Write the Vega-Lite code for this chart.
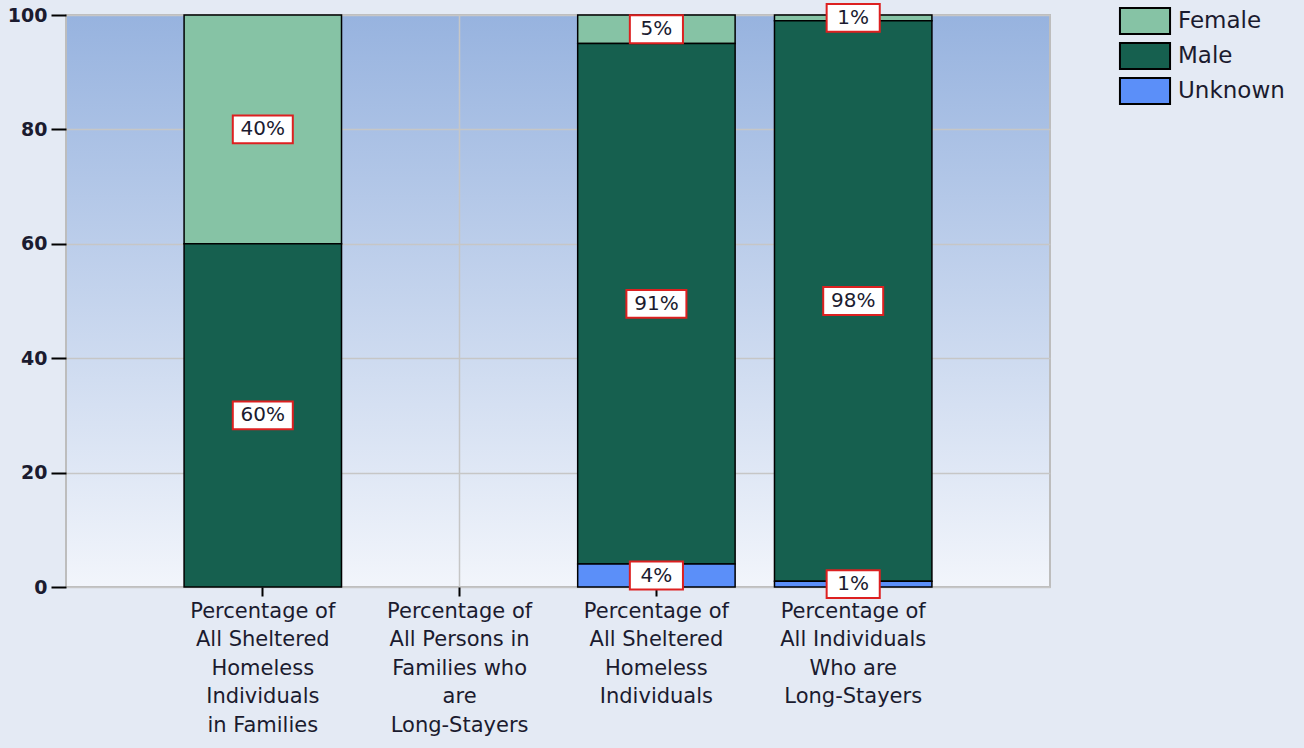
{
  "$schema": "https://vega.github.io/schema/vega-lite/v6.json",
  "width": 984,
  "height": 572,
  "autosize": {"type": "none"},
  "padding": {"left": 66, "top": 15, "right": 254, "bottom": 161},
  "background": "#e4eaf4",
  "config": {
    "view": {
      "fill": {"gradient": "linear", "x1": 0, "y1": 0, "x2": 0, "y2": 1,
        "stops": [{"offset": 0, "color": "#97b3df"}, {"offset": 1, "color": "#f2f5fb"}]},
      "stroke": "#bdbdbd",
      "strokeWidth": 2
    },
    "font": "DejaVu Sans"
  },
  "data": {
    "values": [
      {"cat": "Percentage of|All Sheltered|Homeless|Individuals|in Families", "gender": "Female", "value": 40},
      {"cat": "Percentage of|All Sheltered|Homeless|Individuals|in Families", "gender": "Male", "value": 60},
      {"cat": "Percentage of|All Sheltered|Homeless|Individuals", "gender": "Female", "value": 5},
      {"cat": "Percentage of|All Sheltered|Homeless|Individuals", "gender": "Male", "value": 91},
      {"cat": "Percentage of|All Sheltered|Homeless|Individuals", "gender": "Unknown", "value": 4},
      {"cat": "Percentage of|All Individuals|Who are|Long-Stayers", "gender": "Female", "value": 1},
      {"cat": "Percentage of|All Individuals|Who are|Long-Stayers", "gender": "Male", "value": 98},
      {"cat": "Percentage of|All Individuals|Who are|Long-Stayers", "gender": "Unknown", "value": 1}
    ]
  },
  "transform": [
    {"calculate": "indexof(['Unknown','Male','Female'], datum.gender)", "as": "ord"}
  ],
  "layer": [
    {
      "mark": {"type": "bar", "stroke": "#000000", "strokeWidth": 1.5},
      "encoding": {
        "x": {
          "field": "cat", "type": "nominal", "sort": null,
          "scale": {
            "domain": [
              "Percentage of|All Sheltered|Homeless|Individuals|in Families",
              "Percentage of|All Persons in|Families who|are|Long-Stayers",
              "Percentage of|All Sheltered|Homeless|Individuals",
              "Percentage of|All Individuals|Who are|Long-Stayers"
            ],
            "paddingInner": 0.2, "paddingOuter": 0.6
          },
          "axis": {
            "title": null, "labelAngle": 0, "labelExpr": "split(datum.label, '|')",
            "labelFontSize": 21, "labelLineHeight": 28.5, "labelColor": "#1b1b2f",
            "labelPadding": 4, "labelLimit": 400, "labelBaseline": "top",
            "tickColor": "#000000", "tickSize": 9, "tickWidth": 2,
            "domain": false, "grid": true, "gridColor": "#c6c6c6", "gridWidth": 1.5
          }
        },
        "y": {
          "field": "value", "type": "quantitative", "stack": "zero",
          "scale": {"domain": [0, 100], "nice": false},
          "axis": {
            "title": null, "values": [0, 20, 40, 60, 80, 100],
            "grid": true, "gridColor": "#c6c6c6", "gridWidth": 1.5, "domain": false,
            "tickColor": "#000000", "tickSize": 15, "tickWidth": 2,
            "labelFontSize": 19, "labelFontWeight": "bold", "labelColor": "#1b1b2f", "labelPadding": 4
          }
        },
        "color": {
          "field": "gender", "type": "nominal",
          "scale": {"domain": ["Female", "Male", "Unknown"], "range": ["#86c3a5", "#16604f", "#5b8ff9"]},
          "legend": {
            "orient": "none", "legendX": 1063, "legendY": -10, "title": null,
            "symbolType": "M-1.67,-0.87H1.67V0.87H-1.67Z", "symbolSize": 900,
            "symbolStrokeColor": "#000000", "symbolStrokeWidth": 2, "symbolOpacity": 1,
            "labelFontSize": 23, "labelColor": "#1b1b2f", "labelOffset": 17,
            "rowPadding": -1, "padding": 0
          }
        },
        "order": {"field": "ord", "type": "quantitative"}
      }
    },
    {
      "transform": [
        {"stack": "value", "groupby": ["cat"], "sort": [{"field": "ord", "order": "ascending"}], "as": ["v0", "v1"]},
        {"calculate": "(datum.v0 + datum.v1) / 2", "as": "mid"}
      ],
      "mark": {"type": "point", "filled": true, "fill": "#ffffff", "stroke": "#dd2020", "strokeWidth": 2, "opacity": 1, "size": 900},
      "encoding": {
        "x": {"field": "cat", "type": "nominal", "sort": null},
        "y": {"field": "mid", "type": "quantitative"},
        "shape": {
          "condition": {"test": "datum.value < 10", "value": "M-1.77,-0.93H1.77V0.93H-1.77Z"},
          "value": "M-2,-0.93H2V0.93H-2Z"
        }
      }
    },
    {
      "transform": [
        {"stack": "value", "groupby": ["cat"], "sort": [{"field": "ord", "order": "ascending"}], "as": ["v0", "v1"]},
        {"calculate": "(datum.v0 + datum.v1) / 2", "as": "mid"},
        {"calculate": "datum.value + '%'", "as": "label"}
      ],
      "mark": {"type": "text", "fontSize": 20, "color": "#1b1b2f"},
      "encoding": {
        "x": {"field": "cat", "type": "nominal", "sort": null},
        "y": {"field": "mid", "type": "quantitative"},
        "text": {"field": "label", "type": "nominal"}
      }
    }
  ]
}
